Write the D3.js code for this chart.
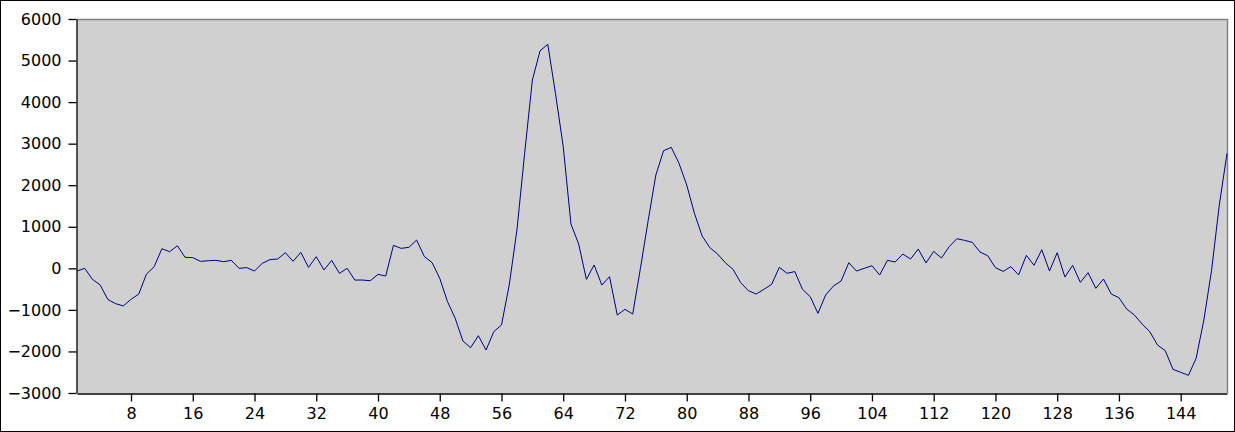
<!DOCTYPE html>
<html><head><meta charset="utf-8">
<script src="https://cdn.jsdelivr.net/npm/d3@7"></script>
<style>html,body{margin:0;padding:0;background:#fff;}svg{display:block;}</style>
</head><body>
<svg id="chart" width="1235" height="432"></svg>
<script>
const values = [
 -65, 0, -265, -400, -750, -850, -905, -746, -620, -140,
 40, 472, 400, 544, 265, 258, 168, 183, 192, 160,
 192, 0, 16, -65, 120, 210, 224, 376, 168, 384,
 24, 280, -40, 192, -120, 0, -282, -282, -298, -145,
 -185, 553, 481, 505, 681, 285, 140, -241, -800, -1203,
 -1749, -1910, -1621, -1965, -1525, -1364, -402, 921, 2767, 4531,
 5236, 5390, 4200, 2926, 1066, 585, -265, 80, -402, -201,
 -1124, -987, -1100, 0, 1146, 2245, 2830, 2911, 2526, 2004,
 1323, 777, 496, 344, 135, -24, -346, -539, -618, -505,
 -385, 24, -120, -78, -505, -683, -1083, -642, -426, -306,
 135, -65, 0, 63, -161, 192, 152, 344, 224, 464,
 128, 409, 248, 520, 713, 673, 625, 392, 304, 16,
 -73, 40, -160, 312, 72, 448, -65, 376, -209, 72,
 -337, -105, -481, -257, -618, -706, -979, -1124, -1340, -1525,
 -1845, -1982, -2430, -2502, -2575, -2166, -1244, -50, 1523, 2767
];
const xTicks = [8,16,24,32,40,48,56,64,72,80,88,96,104,112,120,128,136,144];
const yTicks = [-3000,-2000,-1000,0,1000,2000,3000,4000,5000,6000];
const data = values.map((v,i)=>({x:i+1, y:v}));

const svg = d3.select("#chart");
const L=77, R=1227, T=19, B=393;
const x = d3.scaleLinear().domain([1, values.length]).range([L, R]);
const y = d3.scaleLinear().domain([-3000, 6000]).range([B, T]);

// outer frame
svg.append("rect").attr("x",0.5).attr("y",0.5).attr("width",1234).attr("height",431)
  .attr("fill","#fff").attr("stroke","#000");

// plot background
svg.append("rect").attr("x",L).attr("y",T).attr("width",R-L).attr("height",B-T)
  .attr("fill","#d0d0d0");
// top and right gray border
svg.append("path").attr("d",`M${L},${T+0.5}H${R+0.5}V${B}`)
  .attr("fill","none").attr("stroke","#808080").attr("stroke-width",1.5);

const font = "'DejaVu Sans', sans-serif";

const yAxis = svg.append("g").attr("transform",`translate(${L-0.5},0)`)
  .call(d3.axisLeft(y).tickValues(yTicks).tickSize(8).tickPadding(7).tickSizeOuter(0).tickFormat(d3.format("d")));
const xAxis = svg.append("g").attr("transform",`translate(0,${B+0.5})`)
  .call(d3.axisBottom(x).tickValues(xTicks).tickSize(8).tickPadding(6).tickSizeOuter(0).tickFormat(d3.format("d")));
[yAxis,xAxis].forEach(g=>{
  g.selectAll("text").attr("font-family",font).attr("font-size",16).attr("fill","#000");
  g.selectAll("line,path").attr("stroke","#000").attr("stroke-width",1.3);
});

const line = d3.line().x(d=>x(d.x)).y(d=>y(d.y));
svg.append("path").datum(data).attr("d",line)
  .attr("fill","none").attr("stroke","#000080").attr("stroke-width",1)
  .attr("stroke-linejoin","miter");
</script>
</body></html>
